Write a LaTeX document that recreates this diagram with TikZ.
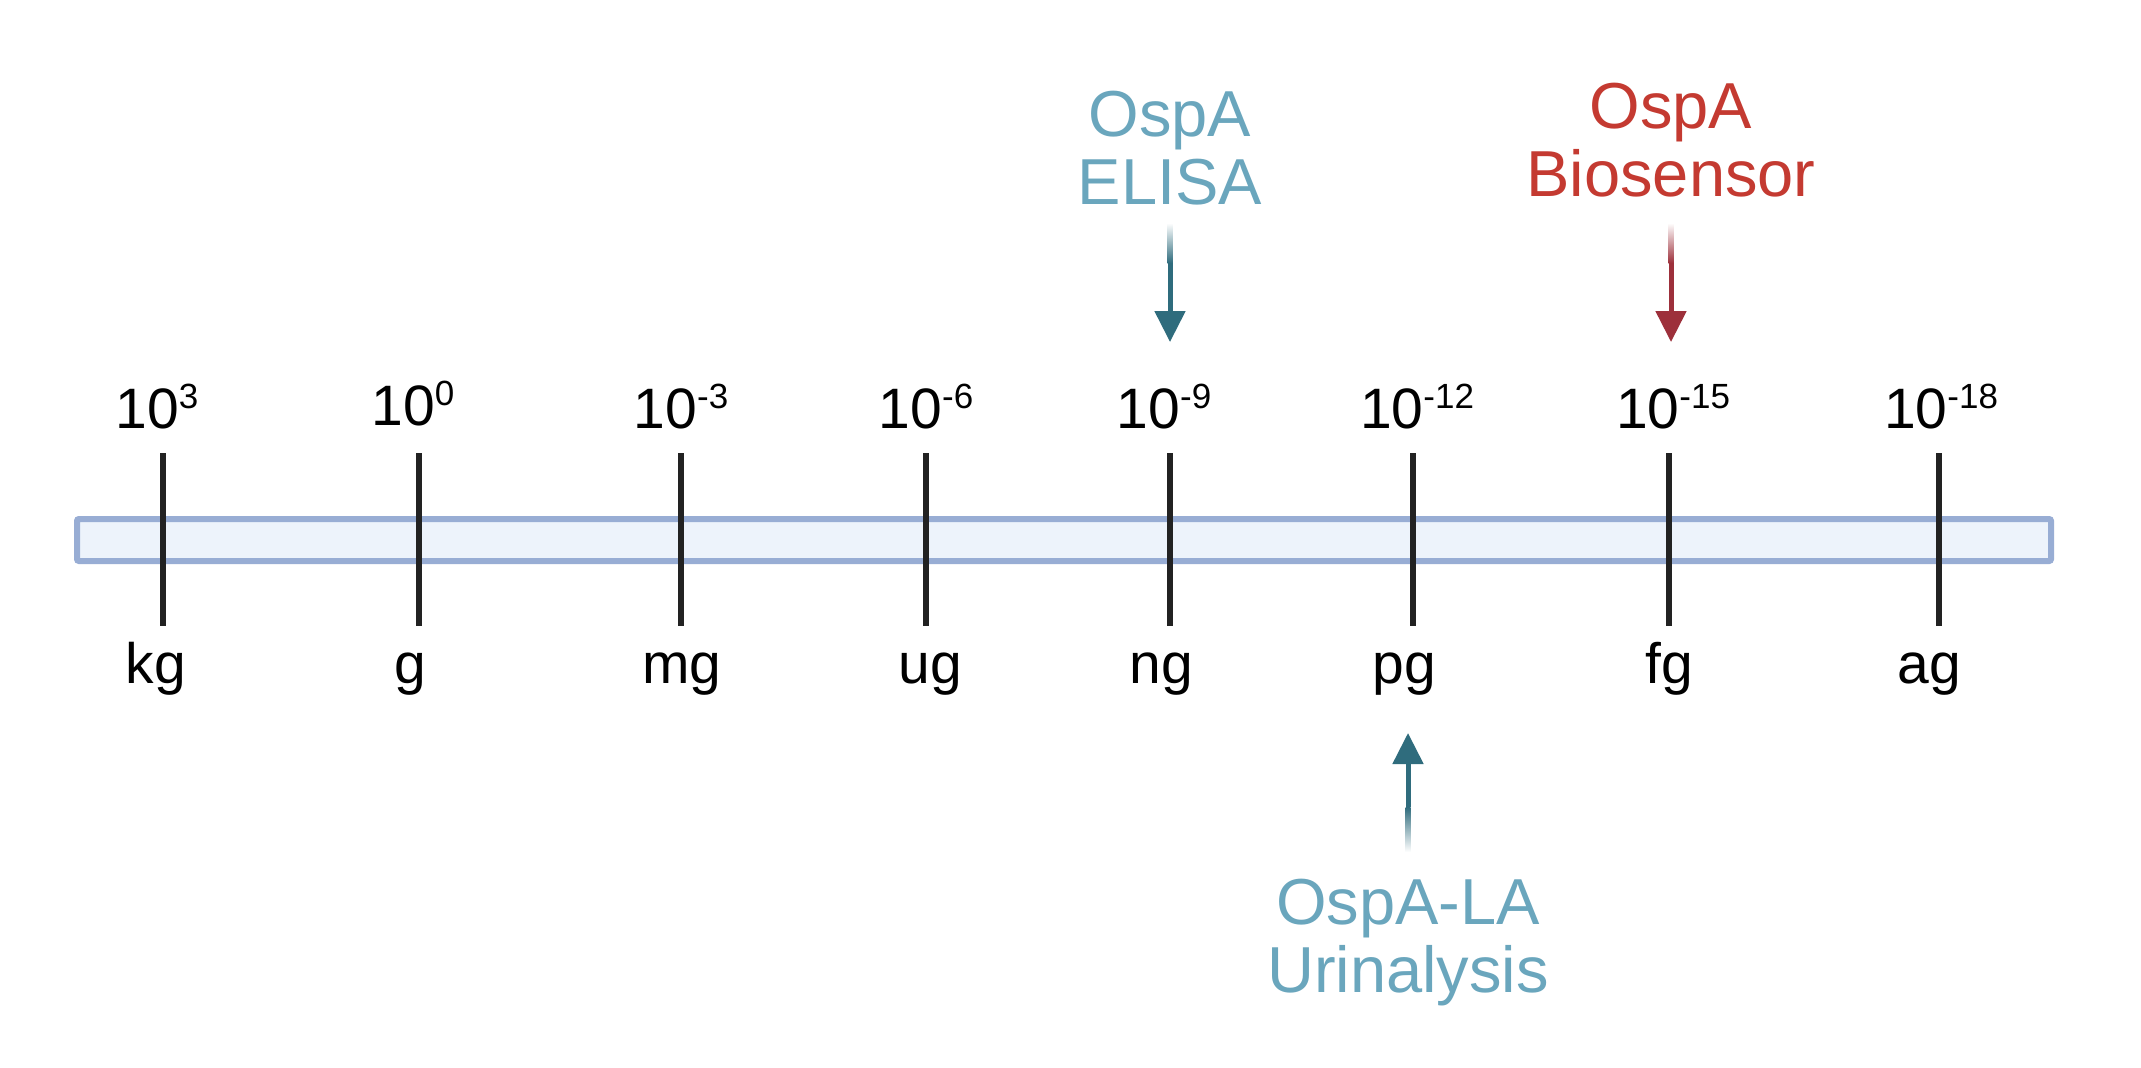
\documentclass[tikz,border=0pt]{standalone}
\usepackage{fontspec}
\setmainfont{Liberation Sans}
\usetikzlibrary{arrows.meta}
\definecolor{barfill}{HTML}{EDF3FB}
\definecolor{barline}{HTML}{98ADD4}
\definecolor{tickc}{HTML}{222222}
\definecolor{tealtxt}{HTML}{6AA6BD}
\definecolor{tealarr}{HTML}{2F6C7D}
\definecolor{redtxt}{HTML}{C43A31}
\definecolor{redarr}{HTML}{9D303B}
\newcommand\tenpow[1]{10\raisebox{10pt}{\fontsize{17.5pt}{20pt}\selectfont #1}}
\begin{document}
\begin{tikzpicture}[x=0.5pt,y=0.5pt,
  barstyle/.style={draw=barline, fill=barfill, line width=3pt, rounded corners=1pt, inner sep=0pt},
  tickline/.style={line width=3pt, draw=tickc},
  scalelbl/.style={anchor=base, inner sep=0pt, text=black, font=\fontsize{28.5pt}{34pt}\selectfont},
  method/.style={anchor=base, inner sep=0pt, font=\fontsize{32.5pt}{34pt}\selectfont},
  marrow/.style={line width=2.5pt, -{Triangle[width=15pt,length=15.5pt]}}]
\useasboundingbox[fill=white] (0,0) rectangle (2141,-1067);
% bar
\node[barstyle, minimum width=987pt, minimum height=21pt] (bar) at (1064,-540) {};
% ticks and labels
\foreach \x/\e/\u/\dx/\by/\ux [count=\i] in {
  163/3/kg/-6/428/-7, 419/0/g/-6/425/-9, 681/-3/mg/0/428/1, 926/-6/ug/0/428/4,
  1170/-9/ng/-6/428/-9, 1413/-12/pg/4/428/-9, 1669/-15/fg/4/428/0, 1939/-18/ag/2/428/-10}{
  \coordinate (t\i a) at (\x,-453);
  \coordinate (t\i b) at (\x,-626);
  \draw[tickline] (t\i a) -- (t\i b);
  \node[scalelbl] (p\i) at (\x+\dx,-\by) {\tenpow{\e}};
  \node[scalelbl] (u\i) at (\x+\ux,-683) {\u};
}
% method labels
\node[method, text=tealtxt] (elisa) at (1170,-136) {\begin{tabular}[t]{@{}c@{}}OspA\\ELISA\end{tabular}};
\node[method, text=redtxt] (bio) at (1671,-128) {\begin{tabular}[t]{@{}c@{}}OspA\\Biosensor\end{tabular}};
\node[method, text=tealtxt] (uri) at (1408,-924) {\begin{tabular}[t]{@{}c@{}}OspA-LA\\Urinalysis\end{tabular}};
% arrows
\coordinate (ea) at (1170,-223); \coordinate (eb) at (1170,-263); \coordinate (et) at (1170,-342);
\shade[top color=white, bottom color=tealarr] (1167.5,-223) rectangle (1172.5,-263);
\draw[marrow, tealarr] (eb) -- (et);
\coordinate (ba) at (1671,-223); \coordinate (bb) at (1671,-263); \coordinate (bt) at (1671,-342);
\shade[top color=white, bottom color=redarr] (1668.5,-223) rectangle (1673.5,-263);
\draw[marrow, redarr] (bb) -- (bt);
\coordinate (ua) at (1408,-852); \coordinate (ub) at (1408,-807); \coordinate (ut) at (1408,-733);
\shade[top color=tealarr, bottom color=white] (1405.5,-807) rectangle (1410.5,-852);
\draw[marrow, tealarr] (ub) -- (ut);
\end{tikzpicture}
\end{document}
